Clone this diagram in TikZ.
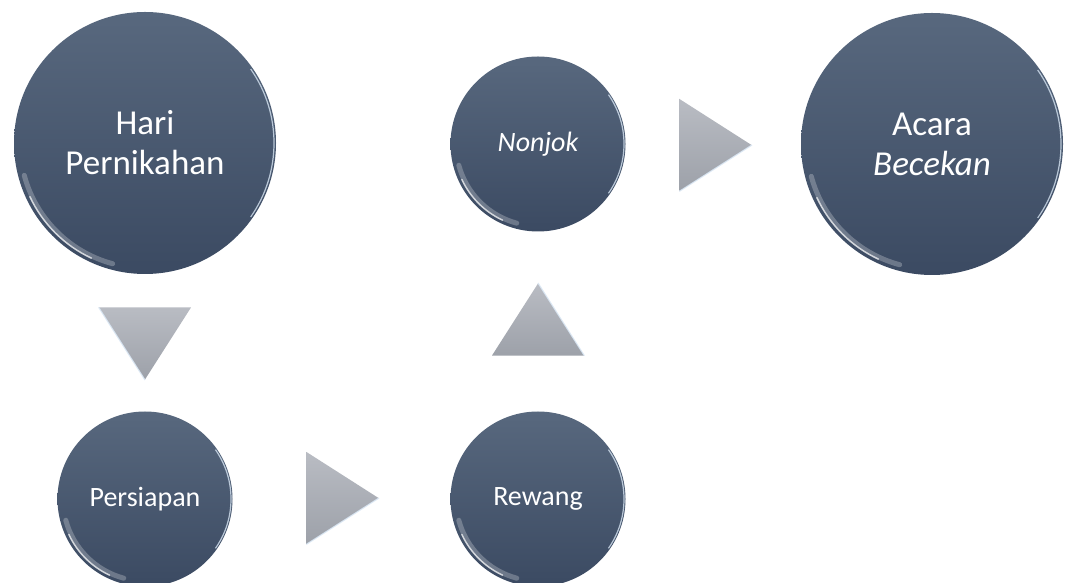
\documentclass[tikz,border=0pt]{standalone}
\usepackage{fontspec}
\setmainfont{Carlito}
\usetikzlibrary{shapes.geometric}

\definecolor{slatetop}{HTML}{58687E}
\definecolor{slatebot}{HTML}{3B4A62}
\definecolor{arrtop}{HTML}{B9BCC3}
\definecolor{arrbot}{HTML}{9DA1A9}
\definecolor{bevel}{HTML}{D6E4F2}

\begin{document}
\begin{tikzpicture}[x=1pt,y=1pt,
    bub/.style={circle,inner sep=0pt,align=center,text=white,
      top color=slatetop,bottom color=slatebot},
    big/.style={bub,minimum size=262pt,font=\fontsize{35}{40}\selectfont},
    small/.style={bub,minimum size=175pt,font=\fontsize{28}{34}\selectfont},
    tri/.style={isosceles triangle,isosceles triangle stretches,inner sep=0pt,
      minimum width=92pt,minimum height=72pt,anchor=apex,
      top color=arrtop,bottom color=arrbot},
    gloss/.style={white,opacity=.25,line width=5pt,line cap=round},
    shine/.style={white,opacity=.7,line width=1.5pt,line cap=round},
    rim/.style={bevel,opacity=.8,line width=1.2pt}]
  \useasboundingbox (0,0) rectangle (1065,583);

  % circles
  \node[big] (hari) at (145,440) {Hari\\Pernikahan};
  \node[small] (nonjok) at (538,439) {\itshape Nonjok};
  \node[big] (acara) at (932,439) {Acara\\\itshape Becekan};
  \node[small] (persiapan) at (145,84) {Persiapan};
  \node[small] (rewang) at (538,84) {Rewang};

  % arrows
  \node[tri,shape border rotate=-90] (t1) at (145,203) {};
  \node[tri,shape border rotate=0] (t2) at (379,85) {};
  \node[tri,shape border rotate=90] (t3) at (538,300) {};
  \node[tri,shape border rotate=0] (t4) at (752,438) {};
  \draw[rim] (t1.right corner) -- (t1.apex);
  \draw[rim] (t2.right corner) -- (t2.apex);
  \draw[rim] (t3.right corner) -- (t3.apex);
  \draw[rim] (t4.right corner) -- (t4.apex);

  % shine on the rims
  \draw[gloss] (hari.center) ++(195:125) arc[start angle=195,end angle=255,radius=125];
  \draw[shine] (hari.center) ++(205:127) arc[start angle=205,end angle=245,radius=127];
  \draw[gloss] (acara.center) ++(195:125) arc[start angle=195,end angle=255,radius=125];
  \draw[shine] (acara.center) ++(205:127) arc[start angle=205,end angle=245,radius=127];
  \draw[gloss] (nonjok.center) ++(195:82) arc[start angle=195,end angle=255,radius=82];
  \draw[shine] (nonjok.center) ++(205:84) arc[start angle=205,end angle=245,radius=84];
  \draw[gloss] (persiapan.center) ++(195:82) arc[start angle=195,end angle=255,radius=82];
  \draw[shine] (persiapan.center) ++(205:84) arc[start angle=205,end angle=245,radius=84];
  \draw[gloss] (rewang.center) ++(195:82) arc[start angle=195,end angle=255,radius=82];
  \draw[shine] (rewang.center) ++(205:84) arc[start angle=205,end angle=245,radius=84];
  \draw[rim] (hari.center) ++(-35:129) arc[start angle=-35,end angle=35,radius=129];
  \draw[rim] (acara.center) ++(-35:129) arc[start angle=-35,end angle=35,radius=129];
  \draw[rim] (nonjok.center) ++(-35:86) arc[start angle=-35,end angle=35,radius=86];
  \draw[rim] (persiapan.center) ++(-35:86) arc[start angle=-35,end angle=35,radius=86];
  \draw[rim] (rewang.center) ++(-35:86) arc[start angle=-35,end angle=35,radius=86];
\end{tikzpicture}
\end{document}
